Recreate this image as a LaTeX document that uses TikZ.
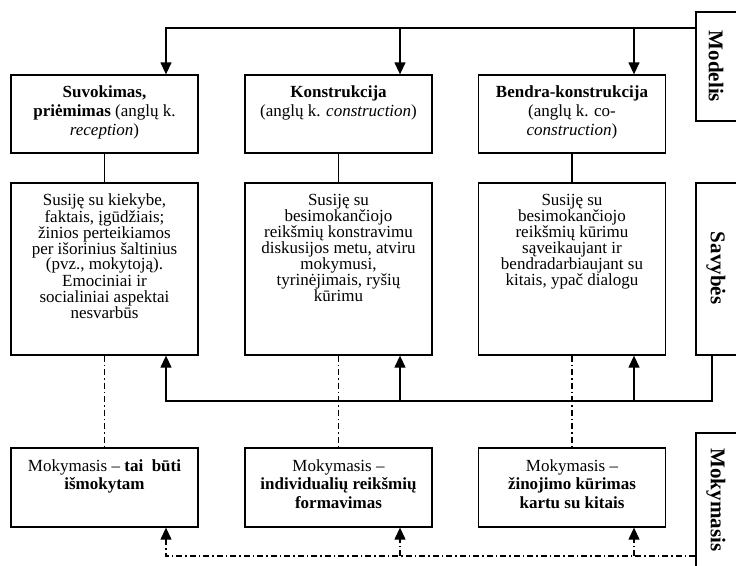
\documentclass[tikz,border=0pt]{standalone}
\usepackage{fontspec}
\setmainfont{Liberation Serif}
\usetikzlibrary{arrows.meta}
\begin{document}
\begin{tikzpicture}[x=1pt,y=-1pt,
  box/.style={draw,line width=1.3pt,inner sep=0pt,minimum width=187pt},
  txt/.style={inner sep=0pt,anchor=north,align=center,
    font=\fontsize{17}{#1}\selectfont,execute at begin node={\rule{0pt}{12pt}}},
  txt/.default=16,
  side/.style={inner sep=0pt,rotate=-90,font=\fontsize{21}{22}\selectfont\bfseries},
  line/.style={line width=1.3pt},
  arr/.style={line width=1.3pt,-{Triangle[length=12pt,width=11pt]}},
  dd/.style={line width=1.2pt,dash pattern=on 6pt off 3pt on 1.5pt off 3pt},
  ddarr/.style={dd,-{Triangle[length=12pt,width=11pt]}}]
\useasboundingbox (0,0) rectangle (736,565);
\clip (0,0) rectangle (736,565);

% top row
\node[box,minimum height=78pt] (t1) at (104.5,114) {};
\node[box,minimum height=78pt] (t2) at (338.5,114) {};
\node[box,minimum height=78pt] (t3) at (572,114) {};
\node[txt=19] (t1t) at (104.5,86) {\textbf{Suvokimas,}\\\textbf{priėmimas} (anglų k.\\\textit{reception})};
\node[txt=19] (t2t) at (338.5,86) {\textbf{Konstrukcija}\\(anglų k. \textit{construction})};
\node[txt=19] (t3t) at (572,86) {\textbf{Bendra-konstrukcija}\\(anglų k. co-\\\textit{construction})};

% middle row
\node[box,minimum height=172pt] (m1) at (104.5,269) {};
\node[box,minimum height=172pt] (m2) at (338.5,269) {};
\node[box,minimum height=172pt] (m3) at (572,269) {};
\node[txt] (m1t) at (104.5,194) {Susiję su kiekybe,\\faktais, įgūdžiais;\\žinios perteikiamos\\per išorinius šaltinius\\(pvz., mokytoją).\\Emociniai ir\\socialiniai aspektai\\nesvarbūs};
\node[txt] (m2t) at (338.5,194) {Susiję su\\besimokančiojo\\reikšmių konstravimu\\diskusijos metu, atviru\\mokymusi,\\tyrinėjimais, ryšių\\kūrimu};
\node[txt] (m3t) at (572,194) {Susiję su\\besimokančiojo\\reikšmių kūrimu\\sąveikaujant ir\\bendradarbiaujant su\\kitais, ypač dialogu};

% bottom row
\node[box,minimum height=79pt] (b1) at (104.5,487.5) {};
\node[box,minimum height=79pt] (b2) at (338.5,487.5) {};
\node[box,minimum height=79pt] (b3) at (572,487.5) {};
\node[txt=18.5] (b1t) at (104.5,459) {Mokymasis – \textbf{tai\ \ būti}\\\textbf{išmokytam}};
\node[txt=18.5] (b2t) at (338.5,459) {Mokymasis –\\\textbf{individualių reikšmių}\\\textbf{formavimas}};
\node[txt=18.5] (b3t) at (572,459) {Mokymasis –\\\textbf{žinojimo kūrimas}\\\textbf{kartu su kitais}};

% side boxes
\node[box,minimum width=48pt,minimum height=109pt] (modelis) at (720,66.5) {};
\node[box,minimum width=48pt,minimum height=172pt] (savybes) at (720,269) {};
\node[box,minimum width=48pt,minimum height=142pt] (mokymasis) at (720,504) {};
\node[side] (modelist) at (716,66.5) {Modelis};
\node[side] (savybest) at (716,268) {Savybės};
\node[side] (mokymasist) at (716,500) {Mokymasis};

% helper coordinates
\coordinate (ty) at (0,28);
\coordinate (fy) at (0,401);
\coordinate (by) at (0,556);
\coordinate (t1in) at ([xshift=61.5pt]t1.north);
\coordinate (t2in) at ([xshift=61.5pt]t2.north);
\coordinate (t3in) at ([xshift=62pt]t3.north);
\coordinate (m1in) at ([xshift=61.5pt]m1.south);
\coordinate (m2in) at ([xshift=61.5pt]m2.south);
\coordinate (m3in) at ([xshift=62pt]m3.south);
\coordinate (b1in) at ([xshift=61.5pt]b1.south);
\coordinate (b2in) at ([xshift=61.5pt]b2.south);
\coordinate (b3in) at ([xshift=62pt]b3.south);
\coordinate (savout) at ([xshift=-8pt]savybes.south);

% model arrows
\draw[arr] (modelis.west |- ty) -| (t1in);
\draw[arr] (t2in |- ty) -- (t2in);
\draw[arr] (t3in |- ty) -- (t3in);

% top to middle
\draw[line] (t1.south) -- (m1.north);
\draw[line] (t2.south) -- (m2.north);
\draw[line] (t3.south) -- (m3.north);

% feedback from Savybes
\draw[arr] (savout) |- (m1in |- fy) -- (m1in);
\draw[arr] (m2in |- fy) -- (m2in);
\draw[arr] (m3in |- fy) -- (m3in);

% middle to bottom
\draw[dd] (m1.south) -- (b1.north);
\draw[dd] (m2.south) -- (b2.north);
\draw[dd] (m3.south) -- (b3.north);

% from Mokymasis
\draw[ddarr] (mokymasis.west |- by) -| (b1in);
\draw[ddarr] (b2in |- by) -- (b2in);
\draw[ddarr] (b3in |- by) -- (b3in);
\end{tikzpicture}
\end{document}
